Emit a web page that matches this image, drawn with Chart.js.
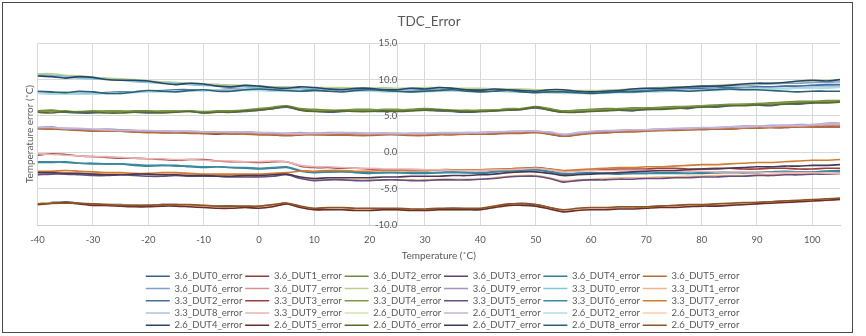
<!DOCTYPE html>
<html>
<head>
<meta charset="utf-8">
<script src="https://cdn.jsdelivr.net/npm/chart.js@4.4.1/dist/chart.umd.min.js"></script>
<style>
  html, body { margin: 0; padding: 0; background: #fff; overflow: hidden; }
  #wrap { position: relative; width: 866px; height: 340px; }
  #c { position: absolute; left: 0; top: 0; }
  #frame { position: absolute; left: 2px; top: 2px; width: 849px; height: 329px; border: 1px solid #4a4a4a; pointer-events: none; }
</style>
</head>
<body>
<div id="wrap">
  <canvas id="c" width="866" height="340"></canvas>
  <div id="frame"></div>
</div>
<script>
// ---- data ----
const temps = [-40,-37.5,-35,-32.5,-30,-27.5,-25,-22.5,-20,-17.5,-15,-12.5,-10,-7.5,-5,-2.5,0,2.5,5,7.5,
               10,12.5,15,17.5,20,22.5,25,27.5,30,32.5,35,37.5,40,42.5,45,47.5,50,52.5,55,57.5,
               60,62.5,65,67.5,70,72.5,75,77.5,80,82.5,85,87.5,90,92.5,95,97.5,100,102.5,105];
const xTickStep = 10;
const yTicks = [-10, -5, 0, 5, 10, 15];

const v36_DUT0 = [5.6,5.7,5.5,5.4,5.4,5.6,5.6,5.5,5.4,5.5, 5.6,5.7,5.4,5.6,5.5,5.6,5.8,6.0,6.2,5.8, 5.7,5.5,5.6,5.8,5.7,5.6,5.7,5.8,5.8,5.7, 5.6,5.5,5.6,5.7,5.8,5.9,6.1,5.8,5.5,5.6, 5.7,5.9,5.8,5.7,5.9,6.0,6.1,6.0,6.3,6.2, 6.4,6.5,6.5,6.4,6.7,6.6,6.8,6.9,6.9];
const v36_DUT1 = [3.3,3.2,3.2,3.1,3.0,2.9,2.9,2.8,2.8,2.7, 2.7,2.7,2.6,2.5,2.6,2.6,2.5,2.4,2.3,2.4, 2.5,2.4,2.4,2.4,2.4,2.5,2.5,2.4,2.4,2.5, 2.5,2.5,2.5,2.6,2.7,2.7,2.8,2.5,2.2,2.4, 2.7,2.7,2.8,2.9,3.0,3.0,3.1,3.1,3.2,3.2, 3.2,3.3,3.4,3.4,3.4,3.5,3.5,3.5,3.5];
const v36_DUT2 = [5.7,5.8,5.6,5.6,5.7,5.6,5.6,5.7,5.7,5.6, 5.6,5.7,5.6,5.7,5.7,5.8,6.0,6.2,6.4,6.0, 5.9,5.8,5.8,5.9,5.9,5.8,5.8,5.9,6.0,5.9, 5.8,5.7,5.8,5.8,5.9,6.0,6.3,6.0,5.7,5.8, 5.9,6.0,6.0,6.1,6.1,6.2,6.3,6.3,6.4,6.5, 6.6,6.6,6.7,6.8,6.9,7.0,7.0,7.1,7.1];
const v36_DUT3 = [-7.1,-6.9,-6.8,-7.0,-7.1,-7.2,-7.2,-7.3,-7.3,-7.2, -7.2,-7.3,-7.4,-7.4,-7.4,-7.5,-7.5,-7.3,-7.0,-7.5, -7.8,-7.7,-7.7,-7.8,-7.8,-7.8,-7.8,-7.9,-7.9,-7.8, -7.7,-7.8,-7.8,-7.6,-7.2,-7.0,-7.2,-7.6,-8.0,-7.9, -7.7,-7.7,-7.6,-7.6,-7.5,-7.4,-7.4,-7.3,-7.3,-7.2, -7.1,-7.0,-6.9,-6.8,-6.7,-6.7,-6.6,-6.5,-6.4];
const v36_DUT4 = [-1.4,-1.4,-1.3,-1.5,-1.6,-1.6,-1.6,-1.8,-1.9,-1.8, -1.8,-2.0,-2.1,-2.0,-2.1,-2.2,-2.3,-2.2,-2.1,-2.6, -2.8,-2.7,-2.6,-2.8,-2.9,-2.8,-2.8,-2.9,-2.9,-2.8, -2.7,-2.8,-2.9,-2.7,-2.5,-2.5,-2.4,-2.7,-3.0,-2.9, -2.8,-2.9,-3.0,-2.9,-2.9,-2.8,-2.8,-2.9,-2.9,-2.8, -2.7,-2.8,-2.8,-2.7,-2.6,-2.7,-2.7,-2.6,-2.5];
const v36_DUT5 = [3.2,3.2,3.1,3.0,2.9,2.9,2.9,2.8,2.7,2.7, 2.7,2.6,2.6,2.6,2.5,2.5,2.4,2.4,2.3,2.4, 2.4,2.4,2.4,2.3,2.3,2.4,2.4,2.3,2.3,2.4, 2.4,2.5,2.5,2.5,2.6,2.6,2.7,2.5,2.2,2.4, 2.6,2.7,2.8,2.8,2.9,3.0,3.0,3.1,3.1,3.2, 3.2,3.3,3.3,3.4,3.4,3.5,3.5,3.6,3.6];
const v36_DUT6 = [10.6,10.6,10.5,10.3,10.2,10.1,10.0,9.8,9.7,9.6, 9.5,9.4,9.3,9.3,9.2,9.1,9.0,9.0,8.9,8.9, 8.8,8.8,8.8,8.7,8.7,8.7,8.7,8.8,8.8,8.7, 8.7,8.7,8.7,8.6,8.6,8.5,8.5,8.4,8.4,8.4, 8.4,8.5,8.6,8.6,8.7,8.8,8.9,8.9,9.0,9.1, 9.2,9.2,9.3,9.4,9.5,9.5,9.6,9.6,9.7];
const v36_DUT7 = [3.4,3.4,3.3,3.2,3.1,3.0,3.0,3.0,2.9,2.9, 2.9,2.8,2.8,2.8,2.7,2.7,2.6,2.6,2.5,2.5, 2.6,2.6,2.6,2.5,2.5,2.6,2.6,2.5,2.5,2.6, 2.6,2.6,2.7,2.7,2.8,2.8,2.9,2.7,2.4,2.6, 2.8,2.9,3.0,3.0,3.1,3.1,3.2,3.2,3.3,3.3, 3.4,3.4,3.5,3.5,3.6,3.6,3.7,3.8,3.8];
const v36_DUT8 = [10.8,10.8,10.6,10.5,10.3,10.2,10.1,10.0,9.8,9.7, 9.6,9.5,9.4,9.3,9.2,9.2,9.1,9.0,9.0,8.9, 8.9,8.9,8.9,8.8,8.8,8.9,8.8,8.8,8.9,8.9, 8.8,8.8,8.8,8.7,8.7,8.7,8.6,8.6,8.5,8.5, 8.5,8.5,8.6,8.7,8.8,8.9,9.0,9.0,9.1,9.2, 9.3,9.3,9.4,9.5,9.6,9.7,9.8,9.9,9.9];
const v36_DUT9 = [3.4,3.5,3.2,3.2,3.1,3.2,3.1,3.0,2.9,2.9, 2.8,2.9,2.8,2.8,2.7,2.8,2.7,2.6,2.6,2.7, 2.6,2.7,2.7,2.6,2.6,2.6,2.5,2.6,2.6,2.6, 2.6,2.7,2.7,2.8,2.8,2.9,2.9,2.7,2.4,2.6, 2.8,2.9,3.0,3.1,3.1,3.2,3.2,3.3,3.3,3.4, 3.5,3.6,3.6,3.7,3.7,3.8,3.8,4.0,4.0];
const v33_DUT0 = [10.6,10.5,10.4,10.2,10.1,10.0,9.9,9.7,9.6,9.5, 9.5,9.3,9.2,9.1,9.0,9.0,8.9,8.8,8.8,8.8, 8.7,8.6,8.6,8.6,8.6,8.5,8.5,8.6,8.6,8.6, 8.6,8.5,8.5,8.5,8.4,8.4,8.4,8.3,8.3,8.3, 8.3,8.4,8.4,8.5,8.6,8.6,8.7,8.7,8.8,8.8, 8.9,8.9,9.0,9.0,9.1,9.1,9.2,9.2,9.3];
const v33_DUT1 = [-2.9,-2.8,-2.8,-2.9,-2.9,-3.0,-3.0,-3.1,-3.1,-3.0, -3.0,-3.1,-3.2,-3.2,-3.2,-3.3,-3.3,-3.1,-3.0,-3.5, -3.8,-3.7,-3.7,-3.8,-3.8,-3.8,-3.8,-3.8,-3.8,-3.7, -3.7,-3.7,-3.7,-3.5,-3.3,-3.2,-3.2,-3.5,-3.9,-3.8, -3.7,-3.6,-3.5,-3.5,-3.5,-3.4,-3.4,-3.3,-3.3,-3.2, -3.2,-3.2,-3.1,-3.1,-3.0,-3.0,-3.0,-2.9,-2.9];
const v33_DUT2 = [8.3,8.2,8.2,8.1,8.1,8.2,8.3,8.3,8.4,8.5, 8.6,8.6,8.5,8.6,8.7,8.6,8.6,8.6,8.5,8.5, 8.6,8.6,8.6,8.6,8.5,8.4,8.4,8.4,8.5,8.5, 8.5,8.5,8.6,8.5,8.4,8.3,8.3,8.3,8.3,8.2, 8.2,8.3,8.4,8.4,8.5,8.6,8.7,8.7,8.8,8.8, 8.9,8.9,9.0,9.0,9.1,9.1,9.2,9.3,9.3];
const v33_DUT3 = [-0.4,-0.2,-0.3,-0.5,-0.6,-0.7,-0.8,-0.8,-0.9,-1.0, -1.1,-1.0,-1.0,-1.2,-1.3,-1.3,-1.4,-1.3,-1.3,-1.9, -2.1,-2.1,-2.2,-2.2,-2.3,-2.4,-2.4,-2.5,-2.5,-2.4, -2.4,-2.5,-2.5,-2.4,-2.3,-2.2,-2.1,-2.3,-2.6,-2.5, -2.4,-2.4,-2.3,-2.3,-2.3,-2.2,-2.2,-2.3,-2.3,-2.2, -2.2,-2.3,-2.3,-2.2,-2.2,-2.3,-2.3,-2.2,-2.2];
const v33_DUT4 = [5.6,5.6,5.7,5.5,5.6,5.7,5.7,5.6,5.6,5.7, 5.7,5.6,5.5,5.6,5.6,5.7,5.9,6.1,6.3,5.9, 5.8,5.7,5.7,5.8,5.8,5.9,5.9,5.8,5.9,5.8, 5.7,5.8,5.7,5.8,6.0,6.0,6.2,5.9,5.6,5.7, 5.8,5.8,5.9,6.0,6.0,6.1,6.2,6.3,6.4,6.4, 6.5,6.6,6.6,6.7,6.8,6.9,6.9,7.0,7.0];
const v33_DUT5 = [-3.1,-3.0,-3.0,-3.1,-3.2,-3.2,-3.1,-3.2,-3.3,-3.3, -3.2,-3.3,-3.3,-3.3,-3.4,-3.4,-3.4,-3.3,-3.1,-3.6, -3.9,-3.8,-3.8,-3.9,-3.9,-3.8,-3.8,-3.9,-3.9,-3.8, -3.8,-3.8,-3.7,-3.6,-3.4,-3.3,-3.3,-3.6,-4.1,-3.9, -3.8,-3.8,-3.7,-3.7,-3.6,-3.6,-3.5,-3.5,-3.4,-3.4, -3.3,-3.3,-3.2,-3.2,-3.1,-3.1,-3.0,-3.0,-2.9];
const v33_DUT6 = [-1.3,-1.3,-1.4,-1.5,-1.5,-1.6,-1.6,-1.7,-1.8,-1.8, -1.9,-1.9,-2.0,-2.0,-2.1,-2.1,-2.2,-2.1,-2.0,-2.5, -2.7,-2.7,-2.7,-2.7,-2.8,-2.8,-2.8,-2.8,-2.8,-2.8, -2.8,-2.8,-2.8,-2.7,-2.6,-2.5,-2.4,-2.6,-2.9,-2.9, -2.9,-2.9,-2.9,-2.9,-2.9,-2.9,-2.9,-2.9,-2.8,-2.8, -2.8,-2.8,-2.7,-2.7,-2.7,-2.7,-2.7,-2.6,-2.6];
const v33_DUT7 = [-2.6,-2.6,-2.5,-2.6,-2.7,-2.8,-2.8,-2.9,-2.9,-2.8, -2.8,-2.9,-3.0,-3.0,-3.0,-3.0,-3.0,-2.9,-2.8,-2.6, -2.6,-2.5,-2.5,-2.6,-2.6,-2.5,-2.5,-2.5,-2.5,-2.4, -2.4,-2.4,-2.4,-2.3,-2.3,-2.2,-2.2,-2.3,-2.5,-2.4, -2.3,-2.2,-2.1,-2.1,-2.0,-2.0,-1.9,-1.8,-1.7,-1.7, -1.6,-1.5,-1.4,-1.4,-1.3,-1.2,-1.1,-1.1,-1.0];
const v33_DUT8 = [8.2,8.1,8.1,8.2,8.2,8.1,8.1,8.3,8.4,8.4, 8.4,8.5,8.6,8.6,8.6,8.7,8.7,8.6,8.6,8.5, 8.5,8.6,8.6,8.5,8.5,8.5,8.5,8.4,8.4,8.5, 8.5,8.4,8.4,8.4,8.4,8.3,8.3,8.2,8.2,8.2, 8.2,8.2,8.3,8.3,8.4,8.5,8.5,8.6,8.6,8.7, 8.7,8.8,8.8,8.8,8.8,8.9,9.0,9.0,9.0];
const v33_DUT9 = [-0.2,-0.3,-0.4,-0.5,-0.6,-0.6,-0.7,-0.8,-0.9,-0.9, -1.0,-1.0,-1.1,-1.2,-1.2,-1.3,-1.3,-1.2,-1.3,-1.8, -2.0,-2.0,-2.1,-2.2,-2.2,-2.3,-2.3,-2.3,-2.4,-2.4, -2.5,-2.5,-2.5,-2.4,-2.4,-2.3,-2.2,-2.4,-2.7,-2.6, -2.5,-2.5,-2.5,-2.5,-2.5,-2.6,-2.6,-2.6,-2.6,-2.7, -2.7,-2.7,-2.7,-2.8,-2.8,-2.8,-2.8,-2.9,-2.9];
const v26_DUT0 = [-7.0,-6.9,-6.9,-7.1,-7.2,-7.3,-7.3,-7.3,-7.4,-7.3, -7.3,-7.4,-7.3,-7.4,-7.5,-7.4,-7.4,-7.3,-7.1,-7.6, -7.9,-7.8,-7.8,-7.8,-7.7,-7.8,-7.9,-7.8,-7.8,-7.9, -7.9,-7.9,-7.9,-7.6,-7.3,-7.2,-7.4,-7.7,-8.1,-7.9, -7.8,-7.8,-7.7,-7.7,-7.6,-7.5,-7.5,-7.4,-7.3,-7.3, -7.2,-7.1,-7.0,-6.9,-6.8,-6.7,-6.6,-6.5,-6.4];
const v26_DUT1 = [3.4,3.4,3.3,3.3,3.2,3.1,3.0,3.0,3.0,2.9, 2.9,2.9,2.8,2.8,2.8,2.8,2.7,2.7,2.6,2.6, 2.6,2.6,2.7,2.7,2.6,2.6,2.6,2.6,2.6,2.7, 2.7,2.7,2.7,2.8,2.9,2.9,2.9,2.8,2.5,2.7, 2.9,3.0,3.0,3.1,3.1,3.2,3.3,3.3,3.4,3.4, 3.5,3.5,3.6,3.6,3.7,3.7,3.8,3.9,3.9];
const v26_DUT2 = [8.1,8.0,8.0,8.0,8.0,8.1,8.2,8.2,8.3,8.3, 8.4,8.4,8.5,8.5,8.5,8.5,8.5,8.4,8.4,8.4, 8.4,8.4,8.5,8.4,8.4,8.3,8.3,8.3,8.3,8.4, 8.4,8.4,8.4,8.4,8.3,8.3,8.2,8.2,8.1,8.1, 8.1,8.1,8.2,8.2,8.3,8.3,8.4,8.4,8.5,8.5, 8.6,8.6,8.7,8.7,8.7,8.8,8.8,8.8,8.9];
const v26_DUT3 = [-7.2,-7.1,-7.0,-7.1,-7.2,-7.3,-7.4,-7.4,-7.4,-7.3, -7.3,-7.4,-7.5,-7.5,-7.5,-7.6,-7.6,-7.4,-7.1,-7.6, -7.9,-7.9,-7.8,-7.9,-7.9,-7.9,-7.9,-7.9,-7.9,-7.8, -7.8,-7.8,-7.8,-7.6,-7.4,-7.2,-7.3,-7.7,-8.1,-7.9, -7.8,-7.8,-7.7,-7.7,-7.6,-7.5,-7.5,-7.4,-7.4,-7.3, -7.2,-7.1,-7.0,-7.0,-6.9,-6.8,-6.7,-6.6,-6.5];
const v26_DUT4 = [10.5,10.4,10.2,10.4,10.3,10.0,9.9,9.9,9.8,9.5, 9.3,9.5,9.4,9.1,9.0,9.2,9.1,8.9,8.8,9.0, 8.9,8.7,8.6,8.8,8.8,8.6,8.6,8.8,8.7,8.9, 8.8,8.6,8.5,8.7,8.6,8.5,8.4,8.6,8.6,8.4, 8.3,8.4,8.5,8.7,8.8,8.8,8.9,9.0,9.1,9.1, 9.2,9.4,9.5,9.5,9.6,9.8,9.9,9.8,10.0];
const v26_DUT5 = [-7.2,-7.0,-6.9,-7.1,-7.3,-7.3,-7.4,-7.5,-7.5,-7.4, -7.4,-7.5,-7.6,-7.7,-7.7,-7.6,-7.7,-7.5,-7.1,-7.6, -7.9,-7.9,-7.9,-8.0,-8.0,-7.9,-7.9,-8.0,-8.0,-7.9, -7.9,-7.9,-7.9,-7.6,-7.3,-7.3,-7.4,-7.8,-8.2,-8.0, -7.9,-7.9,-7.8,-7.8,-7.7,-7.6,-7.6,-7.5,-7.4,-7.4, -7.3,-7.2,-7.1,-7.0,-6.9,-6.8,-6.7,-6.6,-6.5];
const v26_DUT6 = [5.5,5.4,5.6,5.5,5.5,5.4,5.4,5.5,5.5,5.4, 5.5,5.6,5.4,5.5,5.5,5.7,5.8,6.0,6.3,5.8, 5.6,5.6,5.7,5.6,5.6,5.7,5.6,5.7,5.8,5.8, 5.7,5.6,5.6,5.7,5.8,5.9,6.2,5.8,5.5,5.5, 5.6,5.7,5.8,5.8,5.9,5.9,6.0,6.1,6.2,6.3, 6.4,6.4,6.5,6.5,6.6,6.7,6.8,6.8,6.9];
const v26_DUT7 = [-2.8,-2.8,-2.9,-2.9,-3.0,-3.1,-3.1,-3.0,-3.0,-3.1, -3.1,-3.2,-3.2,-3.3,-3.3,-3.2,-3.2,-3.1,-3.0,-3.4, -3.6,-3.5,-3.5,-3.5,-3.5,-3.4,-3.4,-3.3,-3.3,-3.3, -3.2,-3.2,-3.1,-3.0,-2.8,-2.7,-2.7,-2.9,-3.2,-3.1, -3.0,-2.9,-2.8,-2.7,-2.6,-2.5,-2.5,-2.4,-2.3,-2.3, -2.2,-2.1,-2.0,-2.0,-1.9,-1.9,-1.8,-1.8,-1.7];
const v26_DUT8 = [8.4,8.3,8.2,8.4,8.3,8.1,8.1,8.3,8.5,8.4, 8.3,8.5,8.6,8.4,8.4,8.6,8.7,8.6,8.5,8.4, 8.5,8.4,8.3,8.5,8.6,8.5,8.4,8.3,8.4,8.5, 8.6,8.4,8.3,8.4,8.5,8.3,8.2,8.3,8.3,8.2, 8.1,8.2,8.3,8.3,8.4,8.5,8.5,8.4,8.5,8.6, 8.7,8.6,8.6,8.5,8.4,8.3,8.4,8.4,8.4];
const v26_DUT9 = [-7.1,-7.0,-7.0,-7.0,-7.1,-7.2,-7.3,-7.3,-7.3,-7.2, -7.2,-7.2,-7.3,-7.4,-7.4,-7.4,-7.4,-7.2,-7.0,-7.4, -7.7,-7.6,-7.6,-7.7,-7.7,-7.7,-7.7,-7.8,-7.8,-7.7, -7.7,-7.7,-7.7,-7.4,-7.1,-7.1,-7.2,-7.6,-7.9,-7.7, -7.6,-7.6,-7.5,-7.5,-7.5,-7.4,-7.3,-7.2,-7.2,-7.1, -7.0,-6.9,-6.9,-6.8,-6.7,-6.6,-6.5,-6.4,-6.3];

const seriesNames = [
  '3.6_DUT0_error','3.6_DUT1_error','3.6_DUT2_error','3.6_DUT3_error','3.6_DUT4_error','3.6_DUT5_error',
  '3.6_DUT6_error','3.6_DUT7_error','3.6_DUT8_error','3.6_DUT9_error','3.3_DUT0_error','3.3_DUT1_error',
  '3.3_DUT2_error','3.3_DUT3_error','3.3_DUT4_error','3.3_DUT5_error','3.3_DUT6_error','3.3_DUT7_error',
  '3.3_DUT8_error','3.3_DUT9_error','2.6_DUT0_error','2.6_DUT1_error','2.6_DUT2_error','2.6_DUT3_error',
  '2.6_DUT4_error','2.6_DUT5_error','2.6_DUT6_error','2.6_DUT7_error','2.6_DUT8_error','2.6_DUT9_error'
];
const seriesValues = [
  v36_DUT0,v36_DUT1,v36_DUT2,v36_DUT3,v36_DUT4,v36_DUT5,v36_DUT6,v36_DUT7,v36_DUT8,v36_DUT9,
  v33_DUT0,v33_DUT1,v33_DUT2,v33_DUT3,v33_DUT4,v33_DUT5,v33_DUT6,v33_DUT7,v33_DUT8,v33_DUT9,
  v26_DUT0,v26_DUT1,v26_DUT2,v26_DUT3,v26_DUT4,v26_DUT5,v26_DUT6,v26_DUT7,v26_DUT8,v26_DUT9
];
const seriesColors = [
  '#3B5E8C','#8E3B39','#71893F','#5A4672','#357D91','#B66D31',
  '#7FA0CF','#D9908E','#B9D08A','#A593C3','#82C6D9','#F9B483',
  '#46709F','#9C3E3B','#7E9A45','#64507F','#3A8BA1','#D27B31',
  '#AEC2E3','#EBB3B1','#D3E2B2','#C3B6D6','#AEDCE8','#FBCCAA',
  '#2B4566','#6B2C2A','#566A30','#463958','#2A6173','#8C5526'
];

// ---- chart ----
const FONT = 'Lato, "Open Sans", sans-serif';
const TEXT = '#595959';
const GRID = '#d9d9d9';
const LEGEND_W = 640;
const LEGEND_LEFT = 122.6;

const datasets = seriesNames.map((name, i) => ({
  label: name,
  data: seriesValues[i].map((v, k) => ({ x: temps[k], y: v })),
  borderColor: seriesColors[i],
  backgroundColor: seriesColors[i],
  borderWidth: 1.6,
  pointRadius: 0,
  tension: 0.3,
  fill: false,
  order: -i
}));

const legendWidthPlugin = {
  id: 'legendWidth',
  beforeLayout(chart) {
    const lg = chart.legend;
    if (lg && !lg.__patched) {
      const orig = lg.update.bind(lg);
      lg.update = function (mw, mh, m) { return orig(Math.min(mw, LEGEND_W), mh, m); };
      lg.__patched = true;
    }
  },
  afterLayout(chart) {
    const lg = chart.legend;
    if (!lg) return;
    lg.left = LEGEND_LEFT; lg.right = LEGEND_LEFT + LEGEND_W; lg.width = LEGEND_W;
  }
};

new Chart(document.getElementById('c'), {
  type: 'line',
  data: { datasets },
  plugins: [legendWidthPlugin],
  options: {
    responsive: false,
    animation: false,
    devicePixelRatio: 1,
    layout: { padding: { left: 18, right: 26, top: 2, bottom: 0 } },
    plugins: {
      title: {
        display: true, text: 'TDC_Error', color: TEXT,
        font: { family: FONT, size: 13.5, weight: 'normal' },
        padding: { top: 12, bottom: 13 }
      },
      legend: {
        position: 'bottom',
        labels: {
          color: TEXT,
          font: { family: FONT, size: 9.5 },
          usePointStyle: true, pointStyle: 'line', pointStyleWidth: 24,
          padding: 2.75,
          sort: (a, b) => a.datasetIndex - b.datasetIndex
        }
      },
      tooltip: { enabled: false }
    },
    scales: {
      x: {
        type: 'linear', position: 'bottom', min: -40, max: 105,
        ticks: { stepSize: xTickStep, color: TEXT, font: { family: FONT, size: 9.5 }, padding: 9, maxRotation: 0,
                 callback: (v) => String(v) },
        afterBuildTicks: (scale) => { scale.ticks = scale.ticks.filter(t => t.value % xTickStep === 0); },
        grid: { color: GRID, drawTicks: false, lineWidth: 1 },
        border: { color: '#cfcfcf' },
        title: { display: true, text: 'Temperature (\u02DAC)', color: TEXT, font: { family: FONT, size: 10 },
                 padding: { top: -4.4, bottom: 6.75 } }
      },
      y: {
        type: 'linear', position: { x: 25 }, min: -10, max: 15,
        afterBuildTicks: (scale) => { scale.ticks = yTicks.map(v => ({ value: v })); },
        ticks: { color: TEXT, font: { family: FONT, size: 9.5 }, padding: 11, callback: (v) => Number(v).toFixed(1) },
        grid: { color: GRID, drawTicks: false },
        border: { color: GRID }
      },
      yTitle: {
        type: 'linear', position: 'left', min: -10, max: 15,
        ticks: { display: false },
        grid: { display: false, drawTicks: false },
        border: { display: false },
        title: { display: true, text: 'Temperature error (\u02DAC)', color: TEXT, font: { family: FONT, size: 10 },
                 padding: { top: 6, bottom: 1.6 } }
      }
    }
  }
});
</script>
</body>
</html>
